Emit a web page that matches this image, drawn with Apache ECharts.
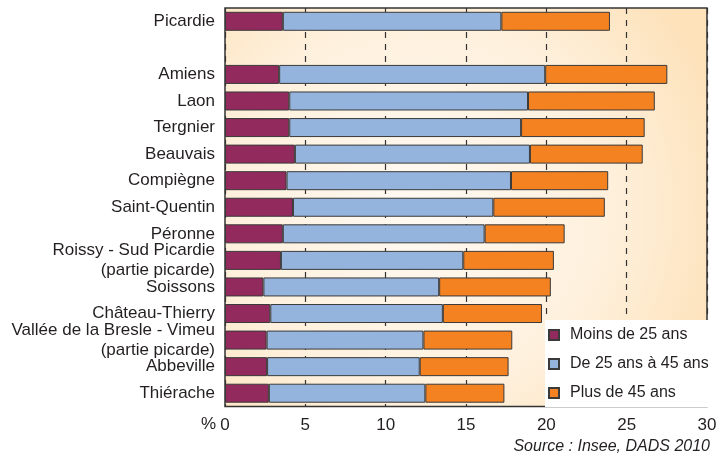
<!DOCTYPE html>
<html>
<head>
<meta charset="utf-8">
<script src="https://cdn.jsdelivr.net/npm/echarts@6/dist/echarts.min.js"></script>
<style>
html,body{margin:0;padding:0;background:#fff;}
#c{width:726px;height:462px;}
</style>
</head>
<body>
<div id="c"></div>
<script>
var categories = ['Picardie', '', 'Amiens', 'Laon', 'Tergnier', 'Beauvais', 'Compiègne', 'Saint-Quentin', 'Péronne',
  'Roissy - Sud Picardie\n(partie picarde)', 'Soissons', 'Château-Thierry',
  'Vallée de la Bresle - Vimeu\n(partie picarde)', 'Abbeville', 'Thiérache'];
var seriesNames = ['Moins de 25 ans', 'De 25 ans à 45 ans', 'Plus de 45 ans'];
var under25 = [3.6, null, 3.37, 4.0, 4.0, 4.35, 3.83, 4.23, 3.6, 3.48, 2.39, 2.82, 2.59, 2.62, 2.73];
var from25to45 = [13.6, null, 16.56, 14.86, 14.43, 14.63, 13.97, 12.47, 12.56, 11.35, 10.94, 10.74, 9.76, 9.5, 9.74];
var over45 = [6.76, null, 7.6, 7.89, 7.69, 7.02, 6.05, 6.94, 4.98, 5.64, 6.95, 6.17, 5.53, 5.53, 4.92];
var xTicks = [0, 5, 10, 15, 20, 25, 30];

var FONT = '"Liberation Sans Narrow", "Arial Narrow", sans-serif';
var colors = ['#932a5e', '#94b3dd', '#f58220'];
var chart = echarts.init(document.getElementById('c'));

function mk(name, data, color) {
  return {
    name: name,
    type: 'bar',
    stack: 'total',
    data: data,
    barWidth: 19,
    itemStyle: { color: color, borderColor: '#3a3a3a', borderWidth: 1 },
    emphasis: { disabled: true }
  };
}

chart.setOption({
  animation: false,
  grid: {
    left: 225, right: 19, top: 8, bottom: 55.5,
    show: true,
    borderColor: '#333',
    borderWidth: 1.5,
    backgroundColor: new echarts.graphic.RadialGradient(0.4, 0.5, 0.8, [
      { offset: 0, color: '#fffaf3' },
      { offset: 0.6, color: '#fef0dc' },
      { offset: 1, color: '#fde2ba' }
    ])
  },
  legend: {
    orient: 'vertical',
    left: 545, top: 320,
    padding: [7, 5, 6, 3],
    backgroundColor: '#ffffff',
    itemWidth: 10, itemHeight: 10,
    itemGap: 13,
    icon: 'rect',
    selectedMode: false,
    textStyle: { fontFamily: FONT, fontSize: 16, color: '#231f20', padding: [0, 0, 0, 6] },
    data: seriesNames
  },
  xAxis: {
    type: 'value',
    min: xTicks[0], max: xTicks[xTicks.length - 1], interval: 5,
    axisLine: { show: false },
    axisTick: { show: false },
    axisLabel: { fontFamily: FONT, fontSize: 17, color: '#231f20', margin: 10 },
    splitLine: { show: true, lineStyle: { color: '#333', type: [6, 6], width: 1.2 } }
  },
  yAxis: {
    type: 'category',
    inverse: true,
    data: categories,
    axisLine: { show: false },
    axisTick: { show: false },
    axisLabel: { fontFamily: FONT, fontSize: 17, color: '#231f20', margin: 10, lineHeight: 20, align: 'right' }
  },
  graphic: [
    { type: 'text', left: 201, top: 416, style: { text: '%', font: '17px ' + FONT, fill: '#231f20' } },
    { type: 'text', right: 16, top: 439, style: { text: 'Source : Insee, DADS 2010', font: 'italic 16px ' + FONT, fill: '#231f20' } }
  ],
  series: [
    mk(seriesNames[0], under25, colors[0]),
    mk(seriesNames[1], from25to45, colors[1]),
    mk(seriesNames[2], over45, colors[2])
  ]
});
</script>
</body>
</html>
